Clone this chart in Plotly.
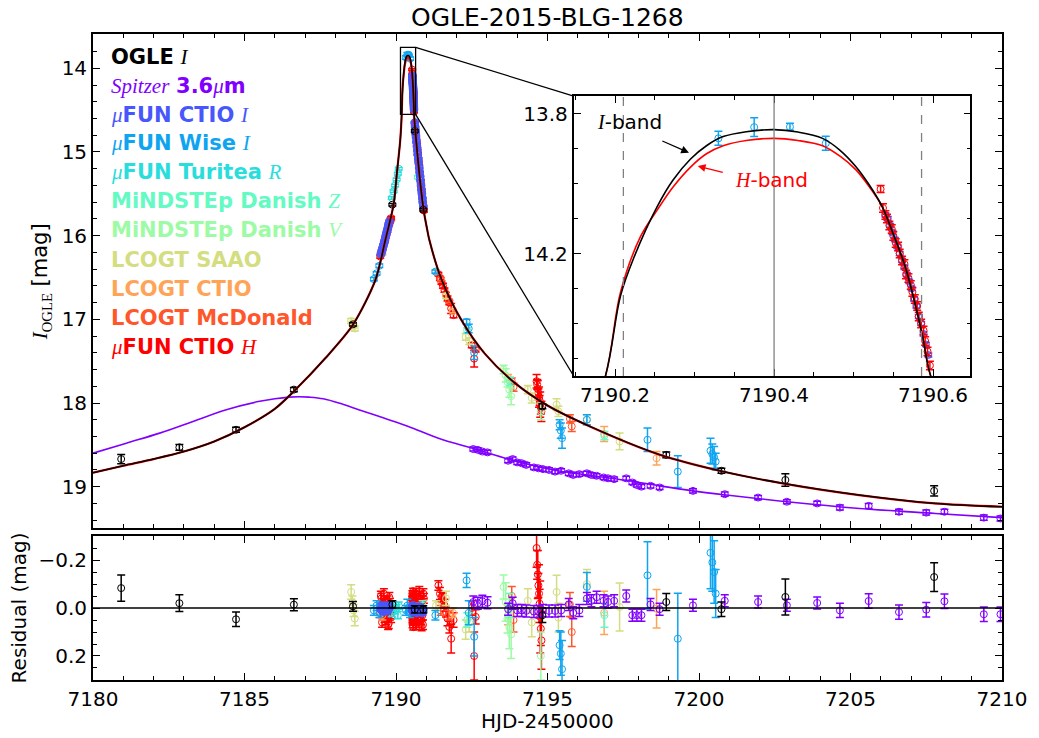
import plotly.graph_objects as go

# ---------------- data ----------------
# OGLE I
T_OGLE = [7180.93, 7182.85, 7184.72, 7186.63, 7188.58, 7189.88, 7190.62, 7190.90, 7194.83, 7198.92, 7200.74, 7202.85, 7207.76]
M_OGLE = [18.67, 18.53, 18.32, 17.84, 17.06, 15.63, 14.75, 15.69, 18.04, 18.62, 18.81, 18.92, 19.05]
E_OGLE = [0.055, 0.035, 0.03, 0.025, 0.02, 0.015, 0.015, 0.015, 0.03, 0.035, 0.03, 0.075, 0.06]
R_OGLE = [-0.083, -0.02, 0.047, -0.014, -0.007, -0.015, 0.006, 0.006, 0.03, -0.025, 0.005, -0.046, -0.129]

# Spitzer 3.6 micron
T_SPZ = [7192.55, 7192.70, 7192.85, 7193.02, 7193.70, 7193.85, 7194.00, 7194.15, 7194.30, 7194.55, 7194.70,
         7194.85, 7195.05, 7195.25, 7195.45, 7195.70, 7195.85, 7196.05, 7196.30, 7196.45, 7196.62, 7196.85,
         7197.00, 7197.20, 7197.60, 7197.80, 7197.95, 7198.10, 7198.40, 7198.70, 7199.80, 7200.85, 7201.95,
         7202.90, 7203.90, 7204.65, 7205.60, 7206.60, 7207.50, 7208.10, 7209.40, 7209.95]
M_SPZ = [18.55, 18.56, 18.58, 18.59, 18.69, 18.67, 18.71, 18.72, 18.74, 18.77, 18.78,
         18.79, 18.80, 18.82, 18.81, 18.84, 18.86, 18.85, 18.84, 18.86, 18.87, 18.89,
         18.90, 18.91, 18.90, 18.95, 18.98, 19.00, 18.99, 19.01, 19.05, 19.09, 19.13,
         19.18, 19.20, 19.25, 19.23, 19.30, 19.31, 19.30, 19.37, 19.38]
E_SPZ = [0.025, 0.025, 0.025, 0.025, 0.025, 0.025, 0.025, 0.025, 0.025, 0.025, 0.025,
         0.025, 0.025, 0.025, 0.025, 0.025, 0.025, 0.025, 0.025, 0.025, 0.025, 0.025,
         0.025, 0.025, 0.025, 0.025, 0.025, 0.025, 0.025, 0.025, 0.025, 0.025, 0.025,
         0.025, 0.025, 0.03, 0.03, 0.03, 0.03, 0.03, 0.03, 0.03]
R_SPZ = [-0.025, -0.02, -0.028, -0.022, 0.005, -0.02, 0.01, 0.01, 0.012, 0.015, 0.015,
         0.01, 0.012, 0.012, 0.01, -0.015, 0.02, 0.01, -0.04, -0.03, -0.045, -0.03,
         -0.025, -0.03, -0.05, 0.03, 0.03, 0.03, -0.015, 0.005, -0.011, -0.03, -0.025,
         -0.011, -0.021, 0.01, -0.029, 0.017, 0.007, -0.028, 0.026, 0.026]

# muFUN CTIO I
T_CI = [7189.50, 7189.52, 7189.54, 7189.56, 7189.58, 7189.60, 7189.62, 7189.64, 7189.66, 7189.68, 7189.70,
        7189.72, 7189.74, 7189.76, 7189.78,
        7190.540, 7190.543, 7190.546, 7190.549, 7190.552, 7190.555, 7190.558, 7190.561, 7190.564, 7190.567,
        7190.570, 7190.573, 7190.576, 7190.579, 7190.582, 7190.585, 7190.588, 7190.591, 7190.594,
        7190.62, 7190.63, 7190.64, 7190.65, 7190.66, 7190.675, 7190.69, 7190.705, 7190.72, 7190.735, 7190.75,
        7190.765, 7190.78, 7190.795, 7190.81, 7190.825, 7190.84, 7190.855, 7190.87, 7190.885, 7190.90]
M_CI = [16.22, 16.20, 16.17, 16.15, 16.12, 16.10, 16.07, 16.04, 16.01, 15.98, 15.95,
        15.92, 15.89, 15.86, 15.83,
        14.09, 14.10, 14.12, 14.14, 14.16, 14.18, 14.20, 14.22, 14.24, 14.26,
        14.28, 14.30, 14.33, 14.35, 14.38, 14.40, 14.43, 14.46, 14.49,
        14.65, 14.70, 14.74, 14.78, 14.82, 14.88, 14.93, 14.98, 15.03, 15.08, 15.13,
        15.19, 15.24, 15.29, 15.34, 15.40, 15.45, 15.50, 15.55, 15.60, 15.65]
E_CI = [0.008, 0.008, 0.008, 0.008, 0.008, 0.008, 0.008, 0.008, 0.008, 0.008, 0.008,
        0.008, 0.008, 0.008, 0.008,
        0.006, 0.006, 0.006, 0.006, 0.006, 0.006, 0.006, 0.006, 0.006, 0.006,
        0.006, 0.006, 0.006, 0.006, 0.006, 0.006, 0.006, 0.006, 0.006,
        0.008, 0.008, 0.008, 0.008, 0.008, 0.008, 0.008, 0.008, 0.008, 0.008, 0.008,
        0.008, 0.008, 0.008, 0.008, 0.008, 0.008, 0.008, 0.008, 0.008, 0.008]
R_CI = [0.005, -0.01, 0.01, 0.0, -0.005, 0.015, 0.005, -0.01, 0.0, 0.01, -0.005,
        0.012, 0.005, -0.01, 0.0,
        0.005, -0.005, 0.01, 0.0, -0.01, 0.005, 0.015, -0.005, 0.01, 0.0,
        0.005, -0.01, 0.01, 0.0, 0.015, -0.005, 0.01, 0.0, 0.005,
        0.01, 0.0, 0.015, 0.005, 0.01, -0.005, 0.02, 0.0, 0.01, 0.015, 0.005,
        0.0, 0.01, -0.005, 0.015, 0.005, 0.0, 0.01, 0.02, 0.005, 0.01]

# muFUN Wise I
T_WISE = [7189.27, 7189.36, 7189.45, 7190.330, 7190.375, 7190.420, 7190.465, 7191.30, 7192.33, 7192.40, 7192.58,
          7195.40, 7195.44, 7195.48, 7196.30, 7198.30, 7199.30, 7200.38, 7200.44, 7200.50, 7200.55]
M_WISE = [16.52, 16.45, 16.36, 13.871, 13.839, 13.838, 13.885, 16.43, 17.03, 17.11, 17.40,
          18.26, 18.33, 18.42, 18.20, 18.44, 18.82, 18.57, 18.61, 18.65, 18.70]
E_WISE = [0.02, 0.02, 0.02, 0.02, 0.027, 0.01, 0.02, 0.02, 0.03, 0.05, 0.08,
          0.06, 0.09, 0.12, 0.06, 0.14, 0.19, 0.15, 0.12, 0.13, 0.10]
R_WISE = [0.01, -0.01, 0.02, 0.01, -0.01, 0.0, 0.02, 0.03, -0.115, 0.02, 0.12,
          0.155, 0.19, 0.255, -0.088, -0.136, 0.128, -0.23, -0.19, -0.15, -0.06]

# muFUN Turitea R
T_TUR = [7189.86, 7189.92, 7189.97, 7190.02, 7190.06, 7190.09]
M_TUR = [15.55, 15.47, 15.40, 15.33, 15.26, 15.20]
E_TUR = [0.015, 0.015, 0.015, 0.015, 0.015, 0.015]
R_TUR = [0.02, -0.01, 0.01, 0.0, 0.03, -0.01]

# MiNDSTEp Danish Z
T_DZ = [7190.72, 7190.88, 7192.35, 7193.76, 7196.88]
M_DZ = [15.30, 15.60, 17.13, 17.74, 18.39]
E_DZ = [0.02, 0.02, 0.03, 0.05, 0.05]
R_DZ = [0.01, -0.01, 0.05, -0.01, 0.03]

# MiNDSTEp Danish V
T_DV = [7193.55, 7193.62, 7193.68, 7193.74, 7193.80, 7194.78]
M_DV = [17.60, 17.67, 17.75, 17.84, 17.92, 18.10]
E_DV = [0.05, 0.08, 0.06, 0.09, 0.10, 0.10]
R_DV = [-0.088, -0.025, 0.044, 0.08, 0.11, 0.2]

# LCOGT SAAO
T_SAAO = [7188.52, 7188.56, 7188.60, 7188.64, 7191.32, 7191.65, 7192.30, 7192.42, 7194.35, 7194.48,
          7195.30, 7195.36, 7196.30, 7197.38]
M_SAAO = [17.02, 17.05, 17.08, 17.11, 16.43, 16.72, 17.21, 17.26, 17.84, 17.94,
          18.02, 18.10, 18.20, 18.46]
E_SAAO = [0.03, 0.025, 0.025, 0.03, 0.02, 0.03, 0.04, 0.04, 0.05, 0.06,
          0.07, 0.06, 0.06, 0.10]
R_SAAO = [-0.067, -0.025, 0.01, 0.044, -0.01, -0.04, 0.09, 0.06, -0.03, 0.06,
          -0.067, 0.04, -0.10, -0.004]

# LCOGT CTIO
T_LCT = [7189.55, 7190.69, 7191.88, 7193.70, 7196.87, 7198.60]
M_LCT = [16.21, 15.02, 16.90, 17.70, 18.37, 18.66]
E_LCT = [0.02, 0.02, 0.02, 0.04, 0.09, 0.08]
R_LCT = [0.03, 0.0, 0.02, 0.03, 0.02, 0.003]

# LCOGT McDonald
T_MCD = [7191.48, 7191.75, 7193.82, 7193.88, 7195.74, 7195.80]
M_MCD = [16.52, 16.78, 17.74, 17.81, 18.19, 18.28]
E_MCD = [0.02, 0.02, 0.04, 0.05, 0.05, 0.06]
R_MCD = [0.01, 0.03, -0.05, 0.05, -0.015, 0.10]

# muFUN CTIO H
T_CH = [7189.48, 7189.50, 7189.52, 7189.54, 7189.56, 7189.58, 7189.60, 7189.62, 7189.64, 7189.66, 7189.68,
        7189.70, 7189.72, 7189.74, 7189.76, 7189.78, 7189.80, 7189.82, 7189.84,
        7190.534, 7190.537, 7190.540, 7190.542, 7190.545, 7190.548, 7190.550, 7190.553, 7190.556, 7190.558,
        7190.561, 7190.564, 7190.566, 7190.569, 7190.572, 7190.574, 7190.577, 7190.580, 7190.582, 7190.585,
        7190.588, 7190.590, 7190.593, 7190.596,
        7190.62, 7190.635, 7190.65, 7190.665, 7190.68, 7190.695, 7190.71, 7190.725, 7190.74, 7190.755, 7190.77,
        7190.785, 7190.80, 7190.815, 7190.83, 7190.845, 7190.86, 7190.875, 7190.89, 7190.905, 7190.92,
        7191.40, 7191.45, 7191.50, 7191.55, 7191.60, 7191.65, 7191.70, 7191.76, 7191.82, 7191.90,
        7192.50, 7192.58, 7192.63,
        7194.64, 7194.66, 7194.68, 7194.70, 7194.72, 7194.74, 7194.76, 7194.78, 7194.80]
M_CH = [16.25, 16.22, 16.19, 16.17, 16.15, 16.12, 16.09, 16.07, 16.04, 16.01, 15.98,
        15.96, 15.94, 15.90, 15.87, 15.85, 15.83, 15.81, 15.79,
        14.016, 14.07, 14.09, 14.10, 14.12, 14.13, 14.15, 14.17, 14.18, 14.20,
        14.22, 14.23, 14.26, 14.27, 14.29, 14.31, 14.33, 14.35, 14.38, 14.40,
        14.42, 14.45, 14.48, 14.52,
        14.66, 14.72, 14.78, 14.82, 14.87, 14.92, 14.97, 15.03, 15.09, 15.13, 15.18,
        15.25, 15.31, 15.35, 15.40, 15.46, 15.50, 15.57, 15.62, 15.66, 15.70,
        16.46, 16.51, 16.56, 16.60, 16.65, 16.70, 16.75, 16.80, 16.87, 16.95,
        17.31, 17.47, 17.36,
        17.74, 17.78, 17.83, 17.88, 17.93, 17.97, 18.02, 18.06, 18.10]
E_CH = [0.02, 0.02, 0.02, 0.02, 0.02, 0.02, 0.02, 0.02, 0.02, 0.02, 0.02,
        0.02, 0.02, 0.02, 0.02, 0.02, 0.02, 0.02, 0.02,
        0.01, 0.012, 0.012, 0.012, 0.012, 0.012, 0.012, 0.012, 0.012, 0.012,
        0.012, 0.012, 0.012, 0.012, 0.012, 0.012, 0.012, 0.012, 0.012, 0.012,
        0.012, 0.012, 0.012, 0.012,
        0.02, 0.02, 0.02, 0.02, 0.02, 0.02, 0.02, 0.02, 0.02, 0.02, 0.02,
        0.02, 0.02, 0.02, 0.02, 0.02, 0.02, 0.02, 0.02, 0.02, 0.02,
        0.02, 0.025, 0.02, 0.03, 0.025, 0.02, 0.03, 0.025, 0.06, 0.03,
        0.03, 0.10, 0.03,
        0.08, 0.06, 0.10, 0.05, 0.12, 0.06, 0.15, 0.07, 0.12]
R_CH = [0.02, -0.05, -0.04, 0.06, 0.03, -0.02, -0.06, 0.04, 0.01, -0.03, 0.05,
        0.0, -0.03, 0.07, 0.065, -0.045, -0.02, 0.025, 0.04,
        -0.04, 0.03, -0.06, 0.05, -0.02, 0.07, 0.0, -0.05, 0.04, -0.03,
        0.06, 0.02, -0.07, 0.08, -0.01, 0.03, -0.04, 0.05, 0.01, -0.06,
        0.04, -0.02, 0.06, 0.0,
        0.03, -0.06, -0.05, 0.07, 0.06, -0.01, -0.02, 0.05, 0.04, -0.04, -0.07,
        0.01, 0.02, -0.05, 0.05, 0.075, -0.03, 0.03, 0.07, -0.06, -0.04,
        -0.094, -0.06, -0.046, -0.032, -0.011, 0.017, 0.044, 0.079, 0.128, 0.05,
        0.0, 0.2, 0.037,
        -0.25, -0.18, -0.14, -0.094, -0.06, -0.018, 0.037, 0.086, 0.135]

# model light curves
T_MOD_I = [7180.0, 7181.0, 7182.0, 7183.0, 7184.0, 7185.0, 7186.0, 7186.63, 7187.68, 7188.57, 7189.32, 7189.65,
           7189.92, 7190.03, 7190.14, 7190.188, 7190.207, 7190.224, 7190.253, 7190.273, 7190.295, 7190.315,
           7190.336, 7190.365, 7190.40, 7190.43, 7190.461, 7190.483, 7190.503, 7190.52, 7190.536, 7190.55,
           7190.565, 7190.586, 7190.597, 7190.63, 7190.91, 7191.01, 7191.10,
           7191.51, 7192.16, 7192.93, 7193.92, 7195.0, 7196.4, 7198.72, 7200.68, 7202.75, 7205.28, 7207.8, 7210.0]
M_MOD_I = [18.833, 18.75, 18.67, 18.58, 18.46, 18.29, 18.07, 17.86, 17.46, 17.07, 16.53, 16.05,
           15.63, 15.25, 14.86, 14.55, 14.32, 14.21, 14.066, 13.99, 13.93, 13.892,
           13.866, 13.852, 13.846, 13.853, 13.871, 13.905, 13.952, 14.005, 14.066, 14.145,
           14.238, 14.428, 14.55, 14.72, 15.69, 15.89, 16.05,
           16.53, 17.01, 17.41, 17.76, 18.03, 18.28, 18.62, 18.81, 18.96, 19.10, 19.20, 19.24]
T_MOD_H = [7180.0, 7181.0, 7182.0, 7183.0, 7184.0, 7185.0, 7186.0, 7186.63, 7187.68, 7188.57, 7189.32, 7189.65,
           7189.92, 7190.03, 7190.14, 7190.188, 7190.207, 7190.232, 7190.253, 7190.273, 7190.295, 7190.315,
           7190.336, 7190.365, 7190.40, 7190.43, 7190.461, 7190.483, 7190.503, 7190.52, 7190.536, 7190.55,
           7190.565, 7190.586, 7190.597, 7190.63, 7190.91, 7191.01, 7191.10,
           7191.51, 7192.16, 7192.93, 7193.92, 7195.0, 7196.4, 7198.72, 7200.68, 7202.75, 7205.28, 7207.8, 7210.0]
M_MOD_H = [18.833, 18.75, 18.67, 18.58, 18.46, 18.29, 18.07, 17.86, 17.46, 17.07, 16.53, 16.05,
           15.63, 15.25, 14.86, 14.55, 14.31, 14.152, 14.076, 14.01, 13.953, 13.915,
           13.892, 13.877, 13.871, 13.877, 13.892, 13.922, 13.961, 14.01, 14.066, 14.145,
           14.238, 14.428, 14.55, 14.72, 15.69, 15.89, 16.05,
           16.53, 17.01, 17.41, 17.76, 18.03, 18.28, 18.62, 18.81, 18.96, 19.10, 19.20, 19.24]
T_MOD_SPZ = [7180.0, 7181.1, 7182.2, 7183.3, 7184.4, 7185.5, 7186.0, 7186.47, 7186.8, 7187.13, 7187.6, 7188.2,
             7188.77, 7189.6, 7190.41, 7191.4, 7192.6, 7193.9, 7195.2,
             7196.5, 7197.7, 7198.7, 7199.8, 7200.9, 7202.9, 7205.3, 7207.8, 7210.0]
M_MOD_SPZ = [18.60, 18.48, 18.36, 18.22, 18.08, 17.98, 17.95, 17.93, 17.925, 17.93, 17.95, 18.01,
             18.08, 18.18, 18.28, 18.42, 18.55, 18.69, 18.80,
             18.87, 18.93, 18.99, 19.05, 19.10, 19.18, 19.26, 19.32, 19.37]

# inset guide lines (caustic crossing times)
T_CAUSTIC = [7190.2105, 7190.5855]
T_PEAK = 7190.40

IT = '<span style="font-family:Liberation Serif;font-style:italic;font-weight:normal">%s</span>'
LEGEND_LABELS = [
    '<b>OGLE</b> ' + IT % 'I',
    IT % 'Spitzer' + ' <b>3.6</b>' + IT % 'μ' + '<b>m</b>',
    IT % 'μ' + '<b>FUN CTIO</b> ' + IT % 'I',
    IT % 'μ' + '<b>FUN Wise</b> ' + IT % 'I',
    IT % 'μ' + '<b>FUN Turitea</b> ' + IT % 'R',
    '<b>MiNDSTEp Danish</b> ' + IT % 'Z',
    '<b>MiNDSTEp Danish</b> ' + IT % 'V',
    '<b>LCOGT SAAO</b>',
    '<b>LCOGT CTIO</b>',
    '<b>LCOGT McDonald</b>',
    IT % 'μ' + '<b>FUN CTIO</b> ' + IT % 'H',
]
COLORS = ['#000000', '#8000ff', '#4757fb', '#0ea4f0', '#2adddd', '#63fbc3', '#9cfba4',
          '#d4dd80', '#ffa457', '#ff572c', '#ff0000']

# ---------------- layout geometry ----------------
W, H = 1039, 738
ML, MR, MT, MB = 93, 32, 34, 58
MAIN_DOM = [0.2358, 1.0]
RES_DOM = [0.0, 0.2229]
INSET_X = [0.5288, 0.9653]
INSET_Y = [0.4706, 0.904]
XR = [7180, 7210]
YR_MAIN = [19.49, 13.59]
YR_RES = [0.3, -0.3]
XR_IN = [7190.148, 7190.647]
YR_IN = [14.55, 13.75]

FONT = 'DejaVu Sans'

fig = go.Figure()

datasets = [
    ('ch', T_CH, M_CH, E_CH, R_CH, 10),
    ('mcd', T_MCD, M_MCD, E_MCD, R_MCD, 9),
    ('lct', T_LCT, M_LCT, E_LCT, R_LCT, 8),
    ('saao', T_SAAO, M_SAAO, E_SAAO, R_SAAO, 7),
    ('dv', T_DV, M_DV, E_DV, R_DV, 6),
    ('dz', T_DZ, M_DZ, E_DZ, R_DZ, 5),
    ('tur', T_TUR, M_TUR, E_TUR, R_TUR, 4),
    ('wise', T_WISE, M_WISE, E_WISE, R_WISE, 3),
    ('ci', T_CI, M_CI, E_CI, R_CI, 2),
    ('spz', T_SPZ, M_SPZ, E_SPZ, R_SPZ, 1),
    ('ogle', T_OGLE, M_OGLE, E_OGLE, R_OGLE, 0),
]


def pts(t, y, e, col, xa, ya, lw=1.0):
    return go.Scatter(
        x=t, y=y, xaxis=xa, yaxis=ya, mode='markers', showlegend=False, hoverinfo='skip',
        marker=dict(symbol='circle-open', size=7, color=col, line=dict(width=lw, color=col)),
        error_y=dict(type='data', array=e, visible=True, color=col, thickness=1.5, width=4),
    )


for name, t, m, e, r, ci in datasets:
    col = COLORS[ci]
    lw = 1.7 if name == 'ci' else 1.0
    fig.add_trace(pts(t, m, e, col, 'x', 'y', lw))
    fig.add_trace(pts(t, r, e, col, 'x2', 'y2', lw))

# model curves in main panel
fig.add_trace(go.Scatter(x=T_MOD_SPZ, y=M_MOD_SPZ, xaxis='x', yaxis='y', mode='lines', showlegend=False,
                         line=dict(color='#8000ff', width=1.6, shape='spline', smoothing=1.0), hoverinfo='skip'))
fig.add_trace(go.Scatter(x=T_MOD_H, y=M_MOD_H, xaxis='x', yaxis='y', mode='lines', showlegend=False,
                         line=dict(color='#ff0000', width=2.2, shape='spline', smoothing=0.8), hoverinfo='skip'))
fig.add_trace(go.Scatter(x=T_MOD_I, y=M_MOD_I, xaxis='x', yaxis='y', mode='lines', showlegend=False,
                         line=dict(color='#000000', width=1.5, shape='spline', smoothing=0.8), hoverinfo='skip'))

# inset (blue below red, as in the zoom)
INSET_ORDER = [('ci', T_CI, M_CI, E_CI, 2), ('ch', T_CH, M_CH, E_CH, 10), ('wise', T_WISE, M_WISE, E_WISE, 3)]
for name, t, m, e, ci in INSET_ORDER:
    fig.add_trace(pts(t, m, e, COLORS[ci], 'x3', 'y3', 1.0))
fig.add_trace(go.Scatter(x=T_MOD_H, y=M_MOD_H, xaxis='x3', yaxis='y3', mode='lines', showlegend=False,
                         line=dict(color='#ff0000', width=1.6, shape='spline', smoothing=1.0), hoverinfo='skip'))
fig.add_trace(go.Scatter(x=T_MOD_I, y=M_MOD_I, xaxis='x3', yaxis='y3', mode='lines', showlegend=False,
                         line=dict(color='#000000', width=1.6, shape='spline', smoothing=1.0), hoverinfo='skip'))

tickfont = dict(family=FONT, size=20, color='black')


def ax(rng, dtick, tick0, mdtick, showlabels=True, fmt=None, **kw):
    d = dict(range=rng, dtick=dtick, tick0=tick0, ticks='inside', ticklen=7, tickwidth=1.3, tickcolor='black',
             minor=dict(dtick=mdtick, tick0=tick0, ticks='inside', ticklen=4, tickwidth=1, tickcolor='black'),
             mirror='allticks', showline=True, linewidth=1.8, linecolor='black', showgrid=False,
             zeroline=False, showticklabels=showlabels, tickfont=tickfont, autorange=False)
    if fmt:
        d['tickformat'] = fmt
    d.update(kw)
    return d


fig.update_layout(
    width=W, height=H, autosize=False,
    margin=dict(l=ML, r=MR, t=MT, b=MB),
    paper_bgcolor='white', plot_bgcolor='white',
    font=dict(family=FONT, size=20, color='black'),
    xaxis=ax(XR, 5, 7180, 1, False, anchor='y', domain=[0, 1]),
    yaxis=ax(YR_MAIN, 1, 14, 0.2, True, anchor='x', domain=MAIN_DOM),
    xaxis2=ax(XR, 5, 7180, 1, True, anchor='y2', domain=[0, 1]),
    yaxis2=ax(YR_RES, 0.2, 0, 0.05, True, '.1f', anchor='x2', domain=RES_DOM),
    xaxis3=ax(XR_IN, 0.2, 7190.2, 0.05, True, '.1f', anchor='y3', domain=INSET_X),
    yaxis3=ax(YR_IN, 0.4, 13.8, 0.1, True, '.1f', anchor='x3', domain=INSET_Y),
)

shapes = []
# zero line of residuals
shapes.append(dict(type='line', xref='x2', yref='y2', x0=XR[0], x1=XR[1], y0=0, y1=0,
                   line=dict(color='black', width=1.6)))
# inset guide lines
for tc in T_CAUSTIC:
    shapes.append(dict(type='line', xref='x3', yref='y3 domain', x0=tc, x1=tc, y0=0, y1=1,
                       line=dict(color='#808080', width=1.3, dash='dash')))
shapes.append(dict(type='line', xref='x3', yref='y3 domain', x0=T_PEAK, x1=T_PEAK, y0=0, y1=1,
                   line=dict(color='#808080', width=1.3)))
# zoom rectangle on main
shapes.append(dict(type='rect', xref='x', yref='y', x0=XR_IN[0], x1=XR_IN[1], y0=YR_IN[1], y1=YR_IN[0],
                   line=dict(color='black', width=1.3)))


def paper_to_main(px, py):
    xd = XR[0] + px * (XR[1] - XR[0])
    f = (py - MAIN_DOM[0]) / (MAIN_DOM[1] - MAIN_DOM[0])
    yd = YR_MAIN[0] + f * (YR_MAIN[1] - YR_MAIN[0])
    return xd, yd


cx, cy_top = paper_to_main(INSET_X[0], INSET_Y[1])
_, cy_bot = paper_to_main(INSET_X[0], INSET_Y[0])
shapes.append(dict(type='line', xref='x', yref='y', x0=XR_IN[1], y0=YR_IN[1], x1=cx, y1=cy_top,
                   line=dict(color='black', width=1.3)))
shapes.append(dict(type='line', xref='x', yref='y', x0=XR_IN[1], y0=YR_IN[0], x1=cx, y1=cy_bot,
                   line=dict(color='black', width=1.3)))
fig.update_layout(shapes=shapes)

ann = []
# title
ann.append(dict(text='OGLE-2015-BLG-1268', xref='paper', yref='paper', x=0.5, y=(H - MB - 17.5) / (H - MT - MB),
                xanchor='center', yanchor='middle', showarrow=False, font=dict(family=FONT, size=25)))
# legend text
LEG_Y = [56.7, 86.0, 114.7, 143.0, 172.0, 201.0, 229.5, 260.0, 289.0, 318.0, 347.0]
for lab, col, ly in zip(LEGEND_LABELS, COLORS, LEG_Y):
    ann.append(dict(text=lab, xref='paper', yref='paper', x=(109 - ML) / (W - ML - MR),
                    y=(H - MB - ly) / (H - MT - MB), xanchor='left', yanchor='middle', showarrow=False,
                    font=dict(family=FONT, size=21, color=col)))
# axis titles
ann.append(dict(text=IT % 'I' + '<sub><span style="font-family:Liberation Serif">OGLE</span></sub> [mag]',
                xref='paper', yref='paper', x=(41 - ML) / (W - ML - MR), y=(H - MB - 282) / (H - MT - MB),
                xanchor='center', yanchor='middle', textangle=-90, showarrow=False,
                font=dict(family=FONT, size=21)))
ann.append(dict(text='Residual (mag)', xref='paper', yref='paper', x=(19 - ML) / (W - ML - MR),
                y=(H - MB - 608) / (H - MT - MB), xanchor='center', yanchor='middle', textangle=-90,
                showarrow=False, font=dict(family=FONT, size=20)))
ann.append(dict(text='HJD-2450000', xref='paper', yref='paper', x=0.5, y=(H - MB - 721) / (H - MT - MB),
                xanchor='center', yanchor='middle', showarrow=False, font=dict(family=FONT, size=20)))
# inset band labels with arrows
ann.append(dict(text=IT % 'I' + '-band',
                xref='x3', yref='y3', x=7190.218, y=13.823, showarrow=False, xanchor='center', yanchor='middle',
                font=dict(family=FONT, size=20, color='black')))
ann.append(dict(text=' ', xref='x3', yref='y3', x=7190.293, y=13.912, ax=7190.257, ay=13.876,
                axref='x3', ayref='y3', showarrow=True, arrowhead=2, arrowsize=1.2, arrowwidth=1.3,
                arrowcolor='black', font=dict(size=2)))
ann.append(dict(text=IT % 'H' + '-band',
                xref='x3', yref='y3', x=7190.397, y=13.99, showarrow=False, xanchor='center', yanchor='middle',
                font=dict(family=FONT, size=20, color='#ff0000')))
ann.append(dict(text=' ', xref='x3', yref='y3', x=7190.304, y=13.95, ax=7190.338, ay=13.97,
                axref='x3', ayref='y3', showarrow=True, arrowhead=2, arrowsize=1.2, arrowwidth=1.3,
                arrowcolor='#ff0000', font=dict(size=2)))
fig.update_layout(annotations=ann)

fig.write_html("out.html", config={'displayModeBar': False},
               post_script="document.body.style.margin='0';")
